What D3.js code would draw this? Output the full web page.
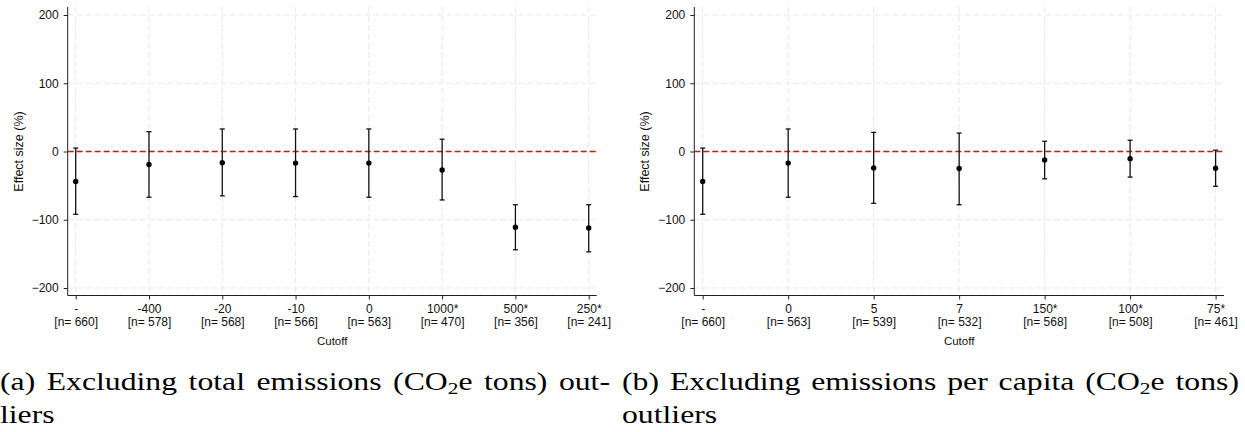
<!DOCTYPE html>
<html>
<head>
<meta charset="utf-8">
<script src="https://cdn.jsdelivr.net/npm/d3@7"></script>
<style>
  body { margin: 0; background: #fff; }
  svg { display: block; }
</style>
</head>
<body>
<svg id="chart" width="1245" height="432"></svg>
<script>
const svg = d3.select("#chart");

// Panel (a): total emissions cutoffs
const cutoffsA = ["-", "-400", "-20", "-10", "0", "1000*", "500*", "250*"];
const nA = [660, 578, 568, 566, 563, 470, 356, 241];
const estA = [-44, -19, -16.5, -17, -17, -27, -111, -112];
const lowA = [-92, -67, -65, -66, -67, -71, -144, -147];
const highA = [5, 29, 33, 33, 33, 18, -78, -78];

// Panel (b): per capita cutoffs
const cutoffsB = ["-", "0", "5", "7", "150*", "100*", "75*"];
const nB = [660, 563, 539, 532, 568, 508, 461];
const estB = [-44, -17, -24, -25, -12.5, -10.5, -24.5];
const lowB = [-92, -67, -76, -78, -40, -37.5, -51];
const highB = [5, 33, 28, 27, 15, 16.5, 2];

const yTicks = [-200, -100, 0, 100, 200];
const sans = "Liberation Sans, Arial, Helvetica, sans-serif";

function panel(opts) {
  const g = svg.append("g");
  const rows = opts.cats.map((c, i) => ({
    cat: c, n: opts.n[i], est: opts.est[i], lo: opts.lo[i], hi: opts.hi[i]
  }));

  const x = d3.scalePoint()
    .domain(opts.cats)
    .range([opts.x0 + opts.pad, opts.x1 - opts.pad]);
  const y = d3.scaleLinear().domain([-200, 200]).range([288, 15]);
  const yBot = 295.5;

  // grid
  g.append("g").selectAll("line")
    .data(yTicks.filter(t => t !== 0))
    .join("line")
    .attr("x1", opts.x0).attr("x2", opts.x1)
    .attr("y1", d => y(d)).attr("y2", d => y(d))
    .attr("stroke", "#e9e9e9").attr("stroke-width", 1)
    .attr("stroke-dasharray", "6,3");
  g.append("g").selectAll("line")
    .data(opts.cats)
    .join("line")
    .attr("x1", d => x(d)).attr("x2", d => x(d))
    .attr("y1", 7).attr("y2", yBot)
    .attr("stroke", "#e9e9e9").attr("stroke-width", 1)
    .attr("stroke-dasharray", "6,3");

  // y axis
  const yAxis = g.append("g")
    .attr("transform", `translate(${opts.x0},0)`)
    .call(d3.axisLeft(y).tickValues(yTicks).tickSize(4).tickPadding(5));
  yAxis.select(".domain").attr("d", `M0,7V${yBot}`).attr("stroke", "#222");
  yAxis.selectAll(".tick line").attr("stroke", "#222");
  yAxis.selectAll("text")
    .attr("font-family", sans).attr("font-size", 12).attr("fill", "#111");

  // x axis, two-line tick labels
  const xAxis = g.append("g")
    .attr("transform", `translate(0,${yBot})`)
    .call(d3.axisBottom(x).tickSize(4).tickFormat(""));
  xAxis.select(".domain").attr("d", `M${opts.x0},0H${opts.x1}`).attr("stroke", "#222");
  xAxis.selectAll(".tick line").attr("stroke", "#222");
  xAxis.selectAll(".tick").each(function (d, i) {
    const tk = d3.select(this);
    tk.append("text")
      .attr("text-anchor", "middle").attr("y", 17.5)
      .attr("font-family", sans).attr("font-size", 12).attr("fill", "#111")
      .text(d);
    tk.append("text")
      .attr("text-anchor", "middle").attr("y", 30)
      .attr("font-family", sans).attr("font-size", 12).attr("fill", "#111")
      .text(`[n= ${rows[i].n}]`);
  });

  // zero reference line
  g.append("line")
    .attr("x1", opts.x0).attr("x2", opts.x1)
    .attr("y1", y(0)).attr("y2", y(0))
    .attr("stroke", "#ff0000").attr("stroke-width", 1.3)
    .attr("stroke-dasharray", "6,3");

  // axis titles
  g.append("text")
    .attr("x", (opts.x0 + opts.x1) / 2).attr("y", 345)
    .attr("text-anchor", "middle")
    .attr("font-family", sans).attr("font-size", 11.5).attr("fill", "#111")
    .text("Cutoff");
  g.append("text")
    .attr("transform", `translate(${opts.x0 - 45},${y(0)}) rotate(-90)`)
    .attr("text-anchor", "middle")
    .attr("font-family", sans).attr("font-size", 12.5).attr("fill", "#111")
    .text("Effect size (%)");

  // error bars
  const bars = g.append("g").attr("stroke", "#111").attr("stroke-width", 1.3);
  bars.selectAll("line.v").data(rows).join("line").attr("class", "v")
    .attr("x1", d => x(d.cat)).attr("x2", d => x(d.cat))
    .attr("y1", d => y(d.hi)).attr("y2", d => y(d.lo));
  bars.selectAll("line.h").data(rows).join("line").attr("class", "h")
    .attr("x1", d => x(d.cat) - 2.5).attr("x2", d => x(d.cat) + 2.5)
    .attr("y1", d => y(d.hi)).attr("y2", d => y(d.hi));
  bars.selectAll("line.l").data(rows).join("line").attr("class", "l")
    .attr("x1", d => x(d.cat) - 2.5).attr("x2", d => x(d.cat) + 2.5)
    .attr("y1", d => y(d.lo)).attr("y2", d => y(d.lo));

  g.append("g").selectAll("circle").data(rows).join("circle")
    .attr("cx", d => x(d.cat)).attr("cy", d => y(d.est))
    .attr("r", 2.7).attr("fill", "#000");

  // caption: glyphs widened, first line justified with word spacing
  const sx = 1.22;
  opts.caption.forEach((line, k) => {
    const t = g.append("text")
      .attr("font-family", "Liberation Serif, Times New Roman, serif")
      .attr("font-size", 26).attr("fill", "#000");
    line.forEach(part => {
      if (part.sub) {
        t.append("tspan").attr("font-size", 17.5).attr("dy", 4).text(part.t);
      } else {
        t.append("tspan").attr("dy", part.up ? -4 : 0).text(part.t);
      }
    });
    if (k === 0) {
      const nat = t.node().getComputedTextLength();
      const spaces = line.map(p => p.t).join("").split(" ").length - 1;
      t.attr("word-spacing", Math.max(0, (opts.capW / sx - nat) / spaces));
    }
    t.attr("transform", `translate(${opts.capX},${390 + k * 33}) scale(${sx},1)`);
  });
}

panel({
  cats: cutoffsA, n: nA, est: estA, lo: lowA, hi: highA,
  x0: 67.7, x1: 596.7, pad: 8,
  capX: 0, capW: 610,
  caption: [
    [{ t: "(a) Excluding total emissions (CO" }, { t: "2", sub: true }, { t: "e tons) out-", up: true }],
    [{ t: "liers" }]
  ]
});

panel({
  cats: cutoffsB, n: nB, est: estB, lo: lowB, hi: highB,
  x0: 694.3, x1: 1224, pad: 8.4,
  capX: 622, capW: 617,
  caption: [
    [{ t: "(b) Excluding emissions per capita (CO" }, { t: "2", sub: true }, { t: "e tons)", up: true }],
    [{ t: "outliers" }]
  ]
});
</script>
</body>
</html>
